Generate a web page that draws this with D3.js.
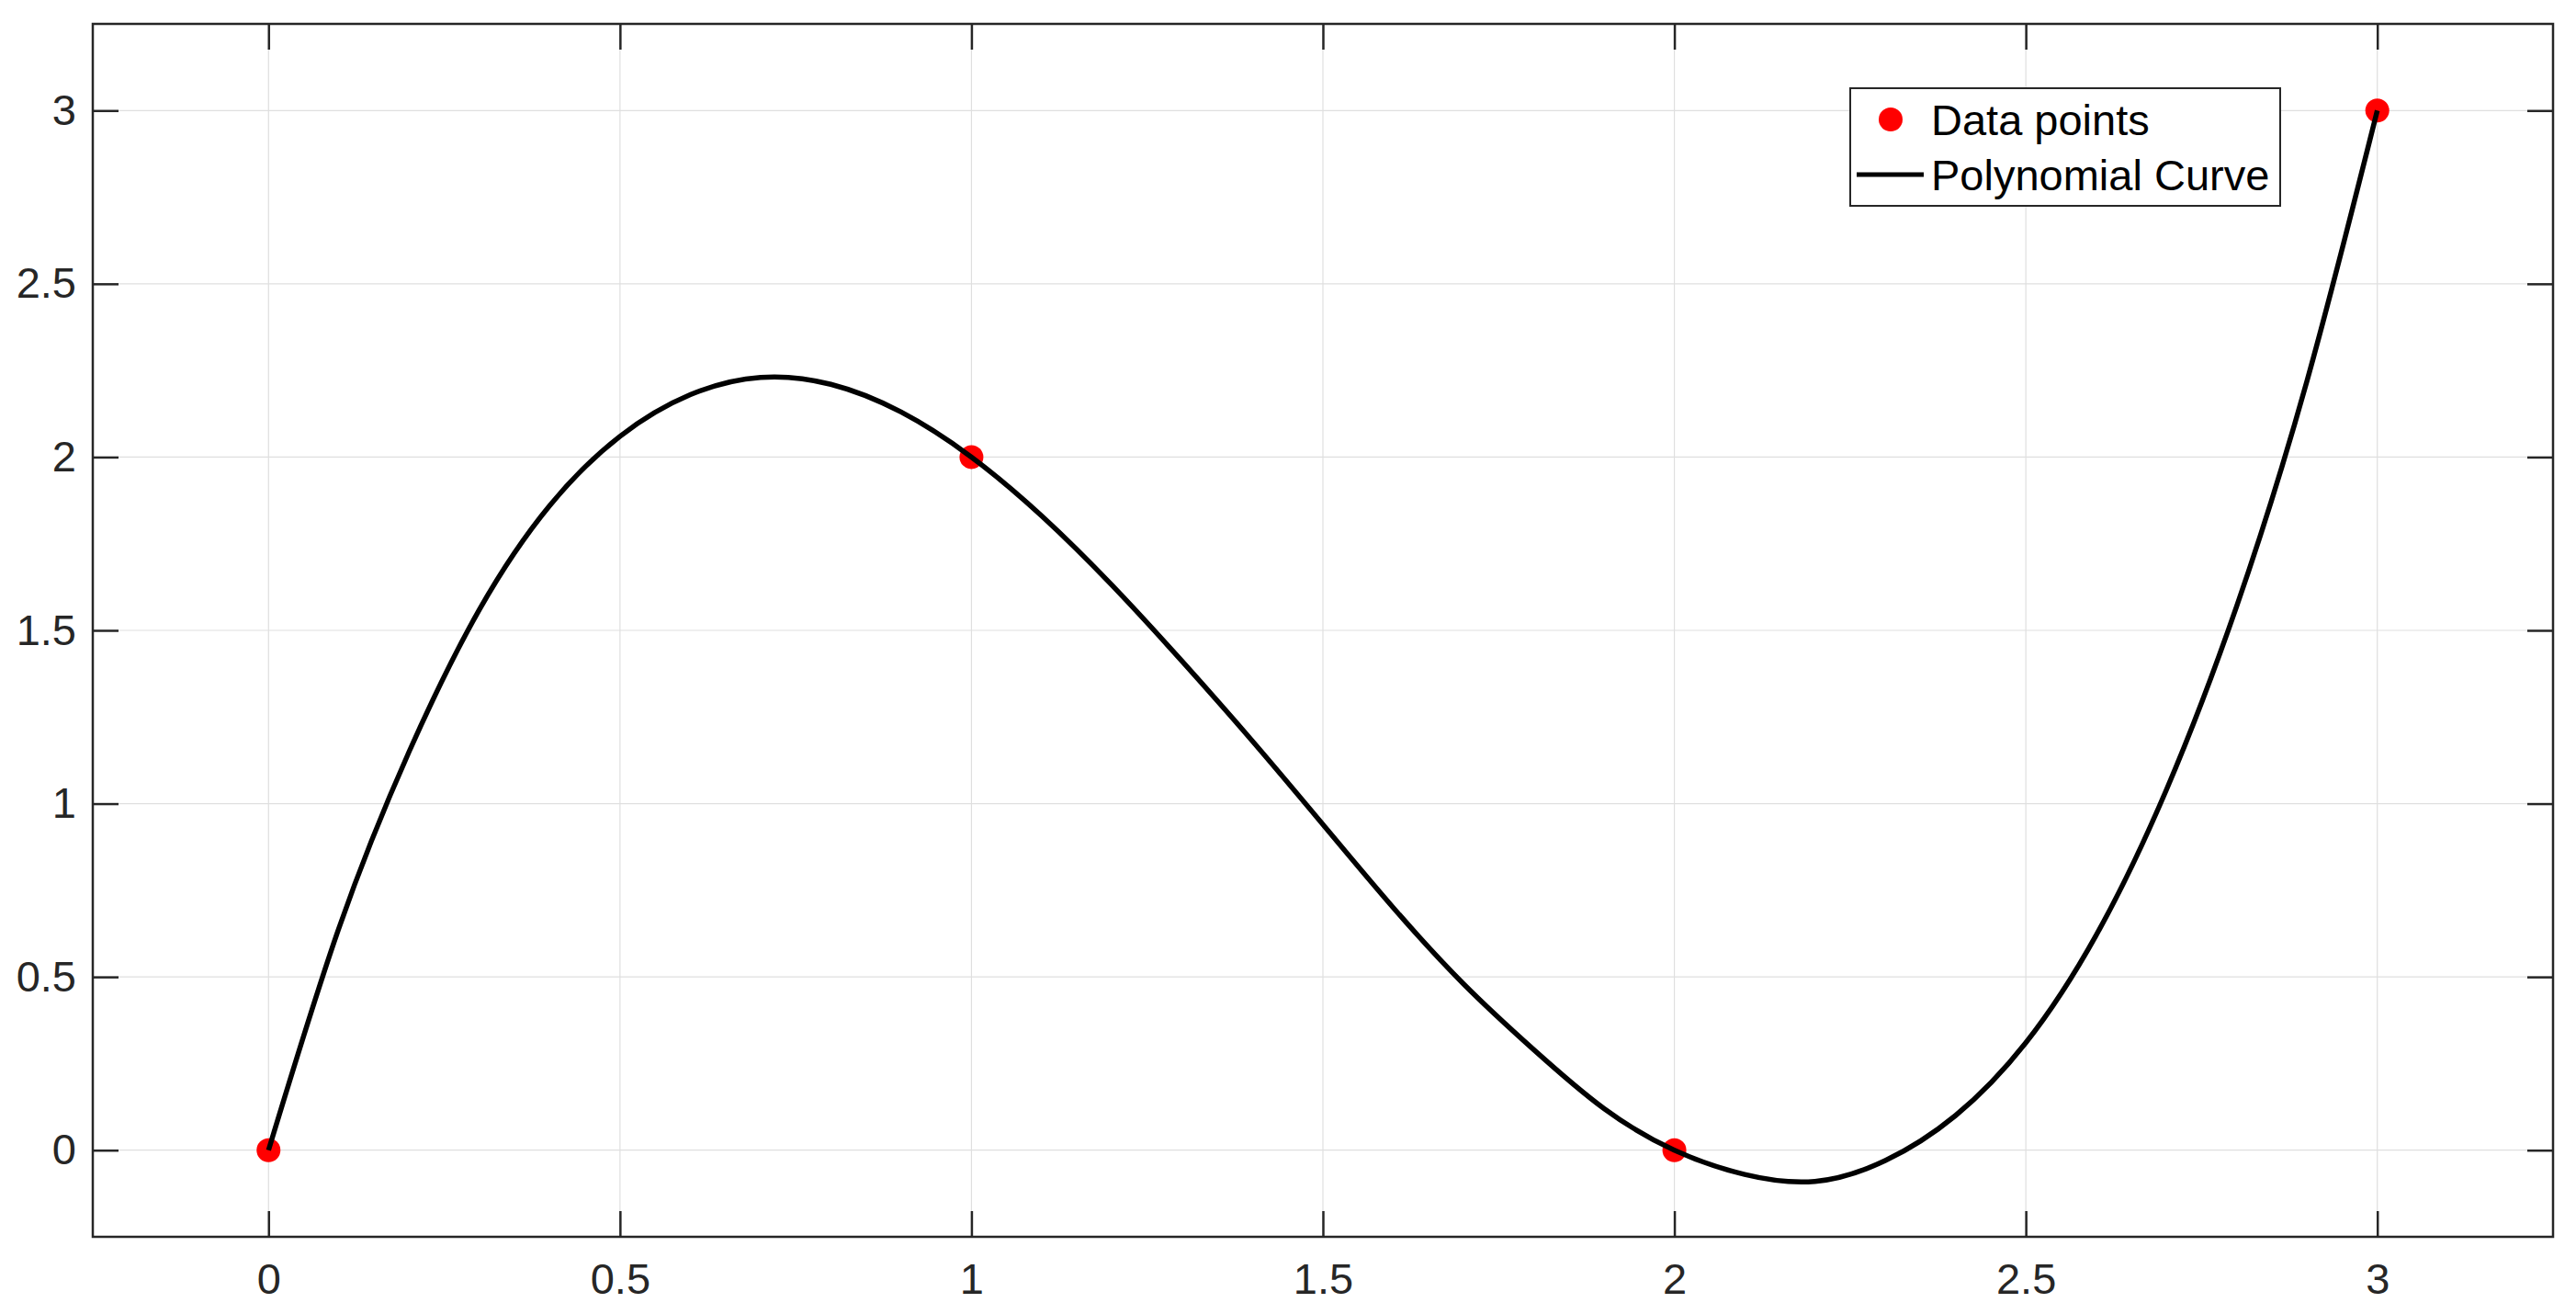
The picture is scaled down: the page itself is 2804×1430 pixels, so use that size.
<!DOCTYPE html>
<html>
<head>
<meta charset="utf-8">
<script src="https://cdn.jsdelivr.net/npm/d3@7"></script>
<style>
  body { margin: 0; background: #fff; }
  text { font-family: "Liberation Sans", Arial, sans-serif; }
</style>
</head>
<body>
<div id="chart"></div>
<script>
// data points
const pointX = [0, 1, 2, 3]
const pointY = [0, 2, 0, 3]

// curve samples, every 0.1
const curveX = [0, 0.1, 0.2, 0.3, 0.4, 0.5, 0.6, 0.7, 0.8, 0.9, 1.0,
    1.1, 1.2, 1.3, 1.4, 1.5, 1.6, 1.7, 1.8, 1.9, 2.0,
    2.1, 2.2, 2.3, 2.4, 2.5, 2.6, 2.7, 2.8, 2.9, 3.0]
const curveY = [0, 0.64, 1.15, 1.56, 1.86, 2.06, 2.18, 2.23, 2.21, 2.13, 2.0,
    1.83, 1.63, 1.41, 1.18, 0.94, 0.70, 0.48, 0.29, 0.12, 0,
    -0.07, -0.09, -0.03, 0.10, 0.31, 0.62, 1.04, 1.57, 2.22, 3.0]

const xTicks = [0, 0.5, 1, 1.5, 2, 2.5, 3]
const yTicks = [0, 0.5, 1, 1.5, 2, 2.5, 3]
const legendLabels = ['Data points', 'Polynomial Curve']

const W = 2804, H = 1430
const m = { left: 101, right: 25, top: 26, bottom: 84 }
const w = W - m.left - m.right,
    h = H - m.top - m.bottom

const svg = d3.select('#chart')
    .append('svg')
    .attr('width', W)
    .attr('height', H)

const g = svg.append('g')
    .attr('transform', `translate(${m.left},${m.top})`)

const x = d3.scaleLinear().domain([-0.25, 3.25]).range([0, w])
const y = d3.scaleLinear().domain([-0.25, 3.25]).range([h, 0])

// grid
g.append('g')
    .selectAll('line')
    .data(xTicks)
    .enter()
    .append('line')
    .attr('x1', d => x(d)).attr('x2', d => x(d))
    .attr('y1', 0).attr('y2', h)
    .attr('stroke', '#dfdfdf')
    .attr('stroke-width', 1.2)
g.append('g')
    .selectAll('line')
    .data(yTicks)
    .enter()
    .append('line')
    .attr('y1', d => y(d)).attr('y2', d => y(d))
    .attr('x1', 0).attr('x2', w)
    .attr('stroke', '#dfdfdf')
    .attr('stroke-width', 1.2)

// axes (ticks inside, mirrored on top/right)
const tick = 28
const styleAxis = (sel) => {
    sel.selectAll('.domain').remove()
    sel.selectAll('.tick line').attr('stroke', '#262626').attr('stroke-width', 2.5)
    sel.selectAll('.tick text')
        .attr('fill', '#262626')
        .style('font-size', '47px')
}

g.append('g')
    .attr('transform', `translate(0,${h})`)
    .call(d3.axisBottom(x).tickValues(xTicks).tickFormat(d3.format('')).tickSizeInner(-tick).tickSizeOuter(0).tickPadding(29))
    .call(styleAxis)
g.append('g')
    .call(d3.axisTop(x).tickValues(xTicks).tickFormat('').tickSizeInner(-tick).tickSizeOuter(0))
    .call(styleAxis)
g.append('g')
    .call(d3.axisLeft(y).tickValues(yTicks).tickFormat(d3.format('')).tickSizeInner(-tick).tickSizeOuter(0).tickPadding(18))
    .call(styleAxis)
g.append('g')
    .attr('transform', `translate(${w},0)`)
    .call(d3.axisRight(y).tickValues(yTicks).tickFormat('').tickSizeInner(-tick).tickSizeOuter(0))
    .call(styleAxis)

// box
g.append('rect')
    .attr('x', 0).attr('y', 0)
    .attr('width', w).attr('height', h)
    .attr('fill', 'none')
    .attr('stroke', '#262626')
    .attr('stroke-width', 2.5)

// points
g.selectAll('circle.pt')
    .data(pointX)
    .enter()
    .append('circle')
    .attr('cx', d => x(d))
    .attr('cy', (d, i) => y(pointY[i]))
    .attr('r', 13)
    .attr('fill', '#ff0000')

// curve (drawn over the points like the picture)
const curveData = curveX.map((d, i) => [d, curveY[i]])
g.append('path')
    .datum(curveData)
    .attr('fill', 'none')
    .attr('stroke', '#000')
    .attr('stroke-width', 5.5)
    .attr('stroke-linejoin', 'round')
    .attr('d', d3.line().x(d => x(d[0])).y(d => y(d[1])).curve(d3.curveNatural))

// legend
const lg = svg.append('g').attr('transform', 'translate(2014,96)')
lg.append('rect')
    .attr('width', 468).attr('height', 128)
    .attr('fill', '#fff')
    .attr('stroke', '#262626')
    .attr('stroke-width', 2)
lg.append('circle')
    .attr('cx', 44).attr('cy', 34).attr('r', 13)
    .attr('fill', '#ff0000')
lg.append('line')
    .attr('x1', 7).attr('x2', 80)
    .attr('y1', 94).attr('y2', 94)
    .attr('stroke', '#000')
    .attr('stroke-width', 5)
lg.selectAll('text')
    .data(legendLabels)
    .enter()
    .append('text')
    .attr('x', 88)
    .attr('y', (d, i) => 34 + i * 60)
    .attr('dy', '0.36em')
    .style('font-size', '47px')
    .attr('fill', '#000')
    .text(d => d)
</script>
</body>
</html>
